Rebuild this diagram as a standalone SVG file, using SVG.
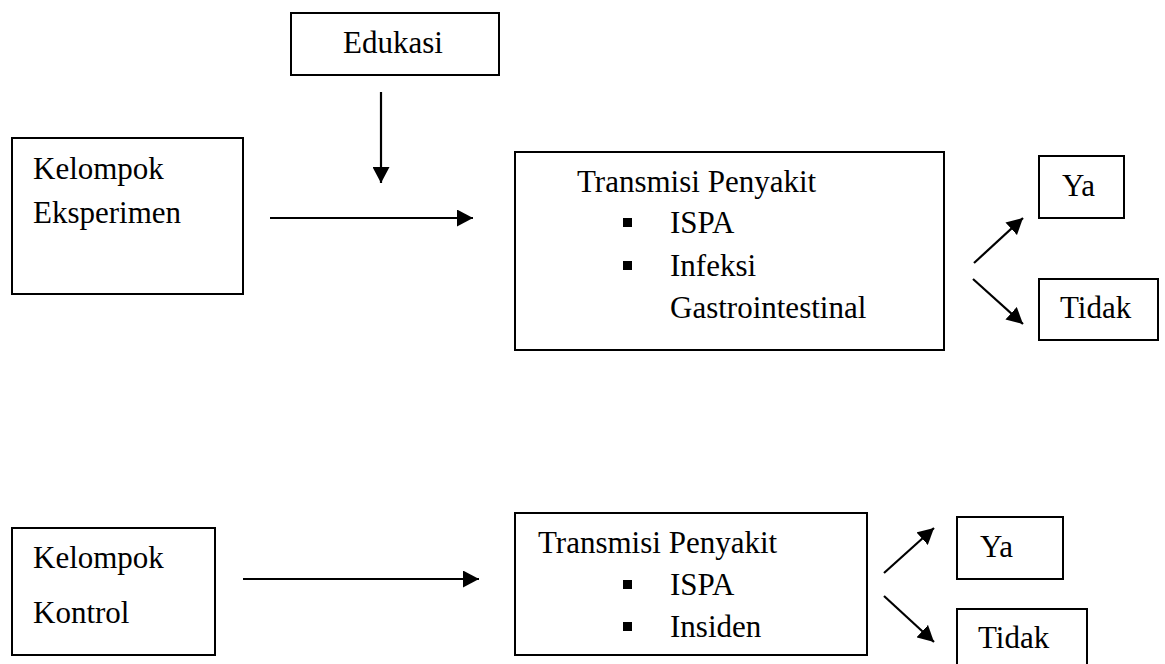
<svg xmlns="http://www.w3.org/2000/svg" width="1165" height="664" viewBox="0 0 1165 664">
<style>
.box{fill:#fff;stroke:#000;stroke-width:2}
.t{font-family:'Liberation Serif','Times New Roman','DejaVu Serif',serif;font-size:31px;fill:#000}
.c{stroke:#000;stroke-width:2.2;fill:none}
.b{fill:#000}
</style>
<defs>
<marker id="ah" markerUnits="userSpaceOnUse" markerWidth="17" markerHeight="17" refX="16" refY="8.5" orient="auto" viewBox="0 0 17 17">
<path d="M0,0 L16,8.5 L0,17 z" fill="#000"/>
</marker>
</defs>
<rect width="1165" height="664" fill="#fff"/>
<g id="edukasi"><rect class="box" x="291" y="13" width="208" height="62"/><text class="t" x="343" y="53">Edukasi</text></g>
<g id="kelompok-eksperimen"><rect class="box" x="12" y="138" width="231" height="156"/><text class="t" x="33" y="179">Kelompok</text><text class="t" x="33" y="223">Eksperimen</text></g>
<g id="transmisi-1"><rect class="box" x="515" y="152" width="429" height="198"/><text class="t" x="577" y="192">Transmisi Penyakit</text>
<rect class="b" x="623" y="218" width="9" height="9"/><text class="t" x="670" y="233">ISPA</text>
<rect class="b" x="623" y="261" width="9" height="9"/><text class="t" x="670" y="276">Infeksi</text>
<text class="t" x="670" y="318">Gastrointestinal</text></g>
<g id="ya-1"><rect class="box" x="1039" y="156" width="85" height="62"/><text class="t" x="1062" y="196">Ya</text></g>
<g id="tidak-1"><rect class="box" x="1039" y="279" width="119" height="61"/><text class="t" x="1060" y="318">Tidak</text></g>
<g id="kelompok-kontrol"><rect class="box" x="12" y="528" width="203" height="127"/><text class="t" x="33" y="568">Kelompok</text><text class="t" x="33" y="623">Kontrol</text></g>
<g id="transmisi-2"><rect class="box" x="515" y="513" width="352" height="142"/><text class="t" x="538" y="553">Transmisi Penyakit</text>
<rect class="b" x="623" y="580" width="9" height="9"/><text class="t" x="670" y="595">ISPA</text>
<rect class="b" x="623" y="622" width="9" height="9"/><text class="t" x="670" y="637">Insiden</text></g>
<g id="ya-2"><rect class="box" x="957" y="517" width="106" height="62"/><text class="t" x="980" y="557">Ya</text></g>
<g id="tidak-2"><rect class="box" x="957" y="609" width="130" height="60"/><text class="t" x="978" y="648">Tidak</text></g>
<g id="connectors">
<line class="c" x1="381" y1="92" x2="381" y2="183" marker-end="url(#ah)"/>
<line class="c" x1="270" y1="218" x2="473" y2="218" marker-end="url(#ah)"/>
<line class="c" x1="974" y1="263" x2="1023" y2="218" marker-end="url(#ah)"/>
<line class="c" x1="973" y1="279" x2="1023" y2="324" marker-end="url(#ah)"/>
<line class="c" x1="243" y1="579" x2="479" y2="579" marker-end="url(#ah)"/>
<line class="c" x1="884" y1="573" x2="934" y2="528" marker-end="url(#ah)"/>
<line class="c" x1="884" y1="596" x2="934" y2="642" marker-end="url(#ah)"/>
</g>
</svg>
